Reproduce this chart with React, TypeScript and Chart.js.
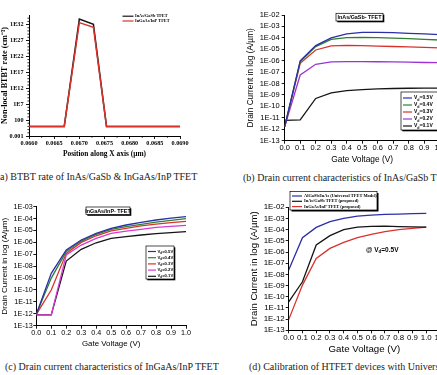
import { useEffect, useRef } from "react";
import { Chart, registerables } from "chart.js";

Chart.register(...registerables);

const SERIF = '"Liberation Serif", "Times New Roman", serif';
const SANS = '"Liberation Sans", Arial, sans-serif';

// (a) non-local BTBT rate along the channel
const positionUm = [0.066, 0.0667, 0.067, 0.06728, 0.06754, 0.069];
const btbtInAsGaSb = [1, 1, 5e33, 1.2e32, 1, 1];
const btbtInGaAsInP = [1, 1, 4e32, 1.3e31, 1, 1];
const btbtTicks = [1e-3, 1e2, 1e7, 1e12, 1e17, 1e22, 1e27, 1e32];

// gate sweep shared by (b), (c) and (d)
const gateVoltage = [0, 0.1, 0.2, 0.3, 0.4, 0.5, 0.6, 0.7, 0.8, 0.9, 1.0];
const drainVd = ["0.5V", "0.4V", "0.3V", "0.2V", "0.1V"];
const decadesTo1e2 = [1e-13, 1e-12, 1e-11, 1e-10, 1e-9, 1e-8, 1e-7, 1e-6, 1e-5, 1e-4, 1e-3, 1e-2];
const decadesTo1e3 = [1e-13, 1e-12, 1e-11, 1e-10, 1e-9, 1e-8, 1e-7, 1e-6, 1e-5, 1e-4, 1e-3];

// (b) InAs/GaSb TFET
const inasVd05 = [1.7e-12, 1e-6, 2.1e-5, 1e-4, 2.2e-4, 3e-4, 3e-4, 2.9e-4, 2.5e-4, 2.2e-4, 1.9e-4];
const inasVd04 = [1.7e-12, 8e-7, 1.7e-5, 7.4e-5, 1.05e-4, 1.1e-4, 1.05e-4, 9.5e-5, 8.5e-5, 7.5e-5, 6.5e-5];
const inasVd03 = [1.7e-12, 6e-7, 8.7e-6, 2e-5, 2.2e-5, 2.1e-5, 1.9e-5, 1.75e-5, 1.6e-5, 1.45e-5, 1.35e-5];
const inasVd02 = [1.7e-12, 5.6e-8, 4.9e-7, 7.8e-7, 8.3e-7, 8.3e-7, 8.1e-7, 7.8e-7, 7.4e-7, 7e-7, 6.8e-7];
const inasVd01 = [6e-12, 6.5e-12, 5e-10, 1.5e-9, 2.4e-9, 3e-9, 3.4e-9, 3.7e-9, 3.9e-9, 4e-9, 4e-9];

// (c) InGaAs/InP TFET
const ingaVd05 = [9e-13, 2.5e-9, 2.3e-7, 1.6e-6, 5.7e-6, 1.5e-5, 2.9e-5, 4.8e-5, 7.6e-5, 1.1e-4, 1.45e-4];
const ingaVd04 = [9e-13, 1e-9, 1.7e-7, 1.3e-6, 4.8e-6, 1.26e-5, 2.1e-5, 3.3e-5, 5.1e-5, 7.1e-5, 1e-4];
const ingaVd03 = [9e-13, 1e-10, 1.2e-7, 1e-6, 3.6e-6, 9.5e-6, 1.5e-5, 2.4e-5, 3.5e-5, 4.6e-5, 5.9e-5];
const ingaVd02 = [8e-13, 8e-13, 8.7e-8, 6e-7, 2.2e-6, 5.8e-6, 9e-6, 1.26e-5, 1.8e-5, 2.2e-5, 2.7e-5];
const ingaVd01 = [8e-13, 8e-13, 2.7e-8, 2.6e-7, 9.3e-7, 2.2e-6, 3e-6, 4.2e-6, 5.4e-6, 6.6e-6, 7.9e-6];

// (d) calibration at Vd = 0.5 V
const calUniversal = [2.5e-8, 1.9e-5, 1.6e-4, 5.2e-4, 1e-3, 1.6e-3, 2e-3, 2.3e-3, 2.5e-3, 2.7e-3, 2.9e-3];
const calInAsGaSb = [3.5e-11, 2.2e-9, 4.3e-6, 2.9e-5, 1e-4, 1.7e-4, 2e-4, 2.1e-4, 1.9e-4, 1.8e-4, 1.7e-4];
const calInGaAsInP = [9e-13, 1.1e-9, 2.7e-7, 2.1e-6, 7.4e-6, 1.9e-5, 3.8e-5, 6.6e-5, 1e-4, 1.3e-4, 1.7e-4];
const calNames = [
  "AlGaSb/InAs (Universal TFET Model)",
  "InAs/GaSb TFET (proposed)",
  "InGaAs/InP TFET (proposed)",
];

const BLUE = "#2b2fa8";
const GREEN = "#2f7f35";
const RED = "#d7322c";
const PURPLE = "#9a34d6";
const MAGENTA = "#d43ad4";
const BLACK = "#151515";

const pts = (xs: number[], ys: number[]) => xs.map((x, i) => ({ x, y: ys[i] }));

function decadeLabel(v: number) {
  const e = Math.round(Math.log10(v));
  const a = Math.abs(e);
  return "1E" + (e < 0 ? "-" : "") + (a < 10 ? "0" : "") + a;
}

function btbtLabel(v: number) {
  if (v < 1) return "0.001";
  if (v < 1e3) return "100";
  return "1E" + Math.round(Math.log10(v));
}

function logAxis(o: any) {
  return {
    type: "logarithmic",
    position: "left",
    min: o.min,
    max: o.max,
    afterBuildTicks: (s: any) => {
      s.ticks = o.ticks.map((v: number) => ({ value: v }));
    },
    afterFit: (s: any) => {
      s.width = o.width;
    },
    ticks: {
      autoSkip: false,
      color: "#000",
      font: o.font,
      padding: o.tickPad,
      callback: (v: any) => o.fmt(Number(v)),
    },
    grid: { drawOnChartArea: false, drawTicks: true, tickLength: 3, tickColor: "#000", tickWidth: 0.9 },
    border: { display: true, color: "#000", width: 1 },
    title: {
      display: true,
      text: o.title,
      color: "#000",
      font: o.titleFont,
      padding: { top: o.titlePad, bottom: 0 },
    },
  };
}

function linAxis(o: any) {
  return {
    type: "linear",
    position: "bottom",
    min: o.min,
    max: o.max,
    afterFit: (s: any) => {
      s.height = o.height;
    },
    ticks: {
      stepSize: o.step,
      autoSkip: false,
      maxRotation: 0,
      minRotation: 0,
      color: "#000",
      font: o.font,
      padding: o.tickPad,
      callback: (v: any) => Number(v).toFixed(o.digits),
    },
    grid: { drawOnChartArea: false, drawTicks: true, tickLength: 3, tickColor: "#000", tickWidth: 0.9 },
    border: { display: true, color: "#000", width: 1 },
    title: {
      display: true,
      text: o.title,
      color: "#000",
      font: o.titleFont,
      padding: { top: 0, bottom: o.titlePad },
    },
  };
}

function baseOptions(padding: any) {
  return {
    responsive: false,
    animation: false,
    events: [],
    layout: { padding },
    plugins: { legend: { display: false }, tooltip: { enabled: false } },
    elements: { line: { borderWidth: 1.3, tension: 0 }, point: { radius: 0 } },
  };
}

function shadowBox(ctx: CanvasRenderingContext2D, x: number, y: number, w: number, h: number, s: number) {
  ctx.fillStyle = "#000";
  ctx.fillRect(x + s, y + s, w, h);
  ctx.fillStyle = "#fff";
  ctx.fillRect(x, y, w, h);
  ctx.strokeStyle = "#000";
  ctx.lineWidth = 0.7;
  ctx.strokeRect(x, y, w, h);
}

function legendLine(ctx: CanvasRenderingContext2D, x0: number, x1: number, y: number, color: string) {
  ctx.strokeStyle = color;
  ctx.lineWidth = 1.2;
  ctx.beginPath();
  ctx.moveTo(x0, y);
  ctx.lineTo(x1, y);
  ctx.stroke();
}

// "V" with subscript "d", followed by "=value"
function drawVd(ctx: CanvasRenderingContext2D, x: number, y: number, value: string, size: number, weight: string) {
  ctx.fillStyle = "#000";
  ctx.textAlign = "left";
  ctx.textBaseline = "middle";
  ctx.font = `${weight} ${size}px ${SANS}`;
  ctx.fillText("V", x, y);
  let w = ctx.measureText("V").width;
  ctx.font = `${weight} ${size * 0.72}px ${SANS}`;
  ctx.fillText("d", x + w, y + size * 0.3);
  w += ctx.measureText("d").width;
  ctx.font = `${weight} ${size}px ${SANS}`;
  ctx.fillText("=" + value, x + w, y);
}

function titleBox(ctx: CanvasRenderingContext2D, x: number, y: number, w: number, h: number, text: string) {
  shadowBox(ctx, x, y, w, h, 1.3);
  ctx.fillStyle = "#000";
  ctx.font = `bold 5.4px ${SANS}`;
  ctx.textAlign = "center";
  ctx.textBaseline = "middle";
  ctx.fillText(text, x + w / 2, y + h / 2 + 0.3);
}

const decorA = {
  id: "decorA",
  afterDraw(chart: any) {
    const ctx: CanvasRenderingContext2D = chart.ctx;
    const xs = chart.scales.x;
    const ys = chart.scales.y;
    const ca = chart.chartArea;
    ctx.save();
    // minor ticks
    ctx.strokeStyle = "#000";
    ctx.lineWidth = 0.8;
    ctx.beginPath();
    for (let i = 0; i < xs.ticks.length - 1; i++) {
      const px = xs.getPixelForValue((xs.ticks[i].value + xs.ticks[i + 1].value) / 2);
      ctx.moveTo(px, ca.bottom);
      ctx.lineTo(px, ca.bottom + 1.8);
    }
    for (let e = -2; e <= 34; e++) {
      if ((e + 3) % 5 === 0) continue;
      const py = ys.getPixelForValue(Math.pow(10, e));
      ctx.moveTo(ca.left, py);
      ctx.lineTo(ca.left - 1.6, py);
    }
    ctx.stroke();
    // legend
    const rows = [
      { color: BLACK, text: "InAs/GaSb TFET", y: ca.top + 1.2 },
      { color: RED, text: "InGaAs/InP TFET", y: ca.top + 6 },
    ];
    rows.forEach((r) => {
      legendLine(ctx, ca.left + 93.5, ca.left + 104.5, r.y, r.color);
      ctx.fillStyle = "#000";
      ctx.font = `bold 4.3px ${SERIF}`;
      ctx.textAlign = "left";
      ctx.textBaseline = "middle";
      ctx.fillText(r.text, ca.left + 106, r.y);
    });
    ctx.restore();
  },
};

const decorB = {
  id: "decorB",
  afterDraw(chart: any) {
    const ctx: CanvasRenderingContext2D = chart.ctx;
    ctx.save();
    titleBox(ctx, 118, 13.3, 47, 7.7, "InAs/GaSb- TFET");
    shadowBox(ctx, 183, 92, 60, 38, 1.3);
    const colors = [BLUE, GREEN, RED, PURPLE, BLACK];
    drainVd.forEach((v, i) => {
      const y = 98 + 7 * i;
      legendLine(ctx, 185, 194, y, colors[i]);
      drawVd(ctx, 196, y, v, 5, "bold");
    });
    ctx.restore();
  },
};

const decorC = {
  id: "decorC",
  afterDraw(chart: any) {
    const ctx: CanvasRenderingContext2D = chart.ctx;
    ctx.save();
    titleBox(ctx, 86, 22, 44, 7.5, "InGaAs/InP- TFET");
    shadowBox(ctx, 146, 61, 28, 33, 1.3);
    const colors = [BLUE, GREEN, RED, MAGENTA, BLACK];
    drainVd.forEach((v, i) => {
      const y = 66.5 + 6.2 * i;
      legendLine(ctx, 148, 156, y, colors[i]);
      drawVd(ctx, 157.5, y, v, 4.2, "bold");
    });
    ctx.restore();
  },
};

const decorD = {
  id: "decorD",
  afterDraw(chart: any) {
    const ctx: CanvasRenderingContext2D = chart.ctx;
    ctx.save();
    shadowBox(ctx, 72, 6.5, 87, 18.5, 1.5);
    const colors = [BLUE, BLACK, RED];
    calNames.forEach((n, i) => {
      const y = 11 + 5.3 * i;
      legendLine(ctx, 74, 84, y, colors[i]);
      ctx.fillStyle = "#000";
      ctx.font = `bold 4.4px ${SERIF}`;
      ctx.textAlign = "left";
      ctx.textBaseline = "middle";
      ctx.fillText(n, 86, y);
    });
    ctx.fillStyle = "#000";
    ctx.font = `bold 6.5px ${SANS}`;
    ctx.textAlign = "left";
    ctx.textBaseline = "middle";
    ctx.fillText("@ ", 148, 65);
    drawVd(ctx, 148 + ctx.measureText("@ ").width, 65, "0.5V", 6.5, "bold");
    ctx.restore();
  },
};

const configA = () => ({
  type: "line",
  data: {
    datasets: [
      { label: "InGaAs/InP TFET", data: pts(positionUm, btbtInGaAsInP), borderColor: RED, borderWidth: 1.5, order: 0 },
      { label: "InAs/GaSb TFET", data: pts(positionUm, btbtInAsGaSb), borderColor: BLACK, borderWidth: 1.5, order: 1 },
    ],
  },
  options: {
    ...baseOptions({ top: 15, right: 38, left: 0, bottom: 0 }),
    scales: {
      x: linAxis({
        min: 0.066, max: 0.069, step: 0.0005, digits: 4, height: 34,
        font: { family: SERIF, size: 6.2, weight: "bold" }, tickPad: 1,
        title: "Position along X axis (µm)", titleFont: { family: SERIF, size: 7.4, weight: "bold" }, titlePad: 11,
      }),
      y: logAxis({
        min: 1e-3, max: 1e35, ticks: btbtTicks, fmt: btbtLabel, width: 29,
        font: { family: SERIF, size: 6.2, weight: "bold" }, tickPad: 2.5,
        title: "Non-local BTBT rate (cm⁻³)", titleFont: { family: SERIF, size: 8.2, weight: "bold" }, titlePad: 0,
      }),
    },
  },
  plugins: [decorA],
});

const configB = () => ({
  type: "line",
  data: {
    datasets: [
      { label: "Vd=0.5V", data: pts(gateVoltage, inasVd05), borderColor: BLUE },
      { label: "Vd=0.4V", data: pts(gateVoltage, inasVd04), borderColor: GREEN },
      { label: "Vd=0.3V", data: pts(gateVoltage, inasVd03), borderColor: RED },
      { label: "Vd=0.2V", data: pts(gateVoltage, inasVd02), borderColor: PURPLE },
      { label: "Vd=0.1V", data: pts(gateVoltage, inasVd01), borderColor: BLACK },
    ],
  },
  options: {
    ...baseOptions({ top: 15, right: 18.3, left: 0, bottom: 0 }),
    scales: {
      x: linAxis({
        min: 0, max: 1, step: 0.1, digits: 1, height: 29.3,
        font: { family: SANS, size: 7.5 }, tickPad: 0,
        title: "Gate Voltage (V)", titleFont: { family: SANS, size: 8.4 }, titlePad: 5,
      }),
      y: logAxis({
        min: 1e-13, max: 1e-2, ticks: decadesTo1e2, fmt: decadeLabel, width: 66.7,
        font: { family: SANS, size: 7.5 }, tickPad: 2,
        title: "Drain Current in log (A/µm)", titleFont: { family: SANS, size: 8.3 }, titlePad: 28,
      }),
    },
  },
  plugins: [decorB],
});

const configC = () => ({
  type: "line",
  data: {
    datasets: [
      { label: "Vd=0.5V", data: pts(gateVoltage, ingaVd05), borderColor: BLUE },
      { label: "Vd=0.4V", data: pts(gateVoltage, ingaVd04), borderColor: GREEN },
      { label: "Vd=0.3V", data: pts(gateVoltage, ingaVd03), borderColor: RED },
      { label: "Vd=0.2V", data: pts(gateVoltage, ingaVd02), borderColor: MAGENTA, order: -1 },
      { label: "Vd=0.1V", data: pts(gateVoltage, ingaVd01), borderColor: BLACK },
    ],
  },
  options: {
    ...baseOptions({ top: 21.7, right: 32, left: 0, bottom: 0 }),
    scales: {
      x: linAxis({
        min: 0, max: 1, step: 0.1, digits: 1, height: 24.3,
        font: { family: SANS, size: 7.2 }, tickPad: 0,
        title: "Gate Voltage (V)", titleFont: { family: SANS, size: 7.9 }, titlePad: 1.2,
      }),
      y: logAxis({
        min: 1e-13, max: 1e-3, ticks: decadesTo1e3, fmt: decadeLabel, width: 36.3,
        font: { family: SANS, size: 7.2 }, tickPad: 0.5,
        title: "Drain Current in log (A/µm)", titleFont: { family: SANS, size: 8.1 }, titlePad: 0,
      }),
    },
  },
  plugins: [decorC],
});

const configD = () => ({
  type: "line",
  data: {
    datasets: [
      { label: calNames[0], data: pts(gateVoltage, calUniversal), borderColor: BLUE },
      { label: calNames[1], data: pts(gateVoltage, calInAsGaSb), borderColor: BLACK },
      { label: calNames[2], data: pts(gateVoltage, calInGaAsInP), borderColor: RED },
    ],
  },
  options: {
    ...baseOptions({ top: 22.3, right: 18, left: 0, bottom: 0 }),
    scales: {
      x: linAxis({
        min: 0, max: 1.1, step: 0.1, digits: 1, height: 24.7,
        font: { family: SANS, size: 7.9 }, tickPad: 0,
        title: "Gate Voltage (V)", titleFont: { family: SANS, size: 9.7 }, titlePad: 0.2,
      }),
      y: logAxis({
        min: 1e-13, max: 1e-2, ticks: decadesTo1e2, fmt: decadeLabel, width: 70.7,
        font: { family: SANS, size: 7.9 }, tickPad: 1,
        title: "Drain Current in log (A/µm)", titleFont: { family: SANS, size: 9.6 }, titlePad: 31,
      }),
    },
  },
  plugins: [decorD],
});

function ChartPanel({ x, y, w, h, config }: any) {
  const ref = useRef<HTMLCanvasElement>(null);
  useEffect(() => {
    const chart = new Chart(ref.current as HTMLCanvasElement, config() as any);
    return () => chart.destroy();
  }, []);
  return (
    <canvas
      ref={ref}
      width={w}
      height={h}
      style={{ position: "absolute", left: x, top: y, width: w, height: h }}
    />
  );
}

function Caption({ x, y, text }: { x: number; y: number; text: string }) {
  return (
    <div
      style={{
        position: "absolute",
        left: x,
        top: y,
        fontFamily: SERIF,
        fontSize: 10,
        lineHeight: "12px",
        color: "#222",
        whiteSpace: "nowrap",
      }}
    >
      {text}
    </div>
  );
}

export default function App() {
  return (
    <div
      style={{
        position: "fixed",
        left: 0,
        top: 0,
        width: 437,
        height: 375,
        overflow: "hidden",
        background: "#fff",
      }}
    >
      <ChartPanel x={0} y={0} w={218} h={170} config={configA} />
      <ChartPanel x={218} y={0} w={240} h={170} config={configB} />
      <ChartPanel x={0} y={185} w={218} h={165} config={configC} />
      <ChartPanel x={218} y={185} w={240} h={170} config={configD} />
      <Caption x={-3.3} y={170.7} text="(a) BTBT rate of InAs/GaSb & InGaAs/InP TFET" />
      <Caption x={243} y={171.7} text="(b) Drain current characteristics of InAs/GaSb TFET" />
      <Caption x={5} y={360.7} text="(c) Drain current characteristics of InGaAs/InP TFET" />
      <Caption x={249} y={361} text="(d) Calibration of HTFET devices with Universal TFET Model" />
    </div>
  );
}
